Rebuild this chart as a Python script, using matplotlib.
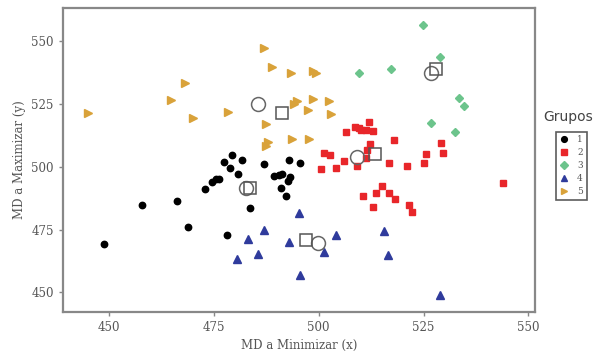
import matplotlib.pyplot as plt

# group 1 - black circles
g1_x = [449.0, 458.0, 466.4, 469.0, 472.9, 474.7, 475.5, 476.2, 477.6, 479.0, 479.5, 480.9, 481.7,
        478.1, 483.8, 486.9, 489.5, 490.6, 491.4, 491.1, 492.2, 492.8, 493.1, 493.0, 495.6]
g1_y = [469.2, 484.7, 486.3, 476.1, 491.0, 493.9, 495.0, 495.2, 501.7, 499.7, 504.5, 497.3, 502.7,
        472.7, 483.4, 500.9, 496.3, 496.6, 497.2, 491.5, 488.5, 494.3, 495.9, 502.5, 501.6]

# group 2 - red squares
g2_x = [500.5, 501.2, 502.8, 504.2, 506.0, 506.5, 508.6, 509.6, 510.2, 511.2, 512.0, 513.0, 512.2,
        511.6, 509.2, 511.2, 510.7, 512.9, 513.8, 515.2, 516.9, 518.3, 516.8, 518.0, 521.0, 521.6,
        522.3, 525.2, 525.5, 529.2, 529.7, 543.9]
g2_y = [499.2, 505.3, 504.8, 499.7, 502.1, 514.0, 516.0, 515.4, 514.8, 514.8, 517.8, 514.4, 509.2,
        506.8, 500.1, 503.6, 488.2, 483.8, 489.4, 492.5, 489.4, 487.0, 501.5, 510.8, 500.1, 484.6,
        482.0, 501.3, 505.0, 509.3, 505.3, 493.6]

# group 3 - green diamonds
g3_x = [524.8, 529.0, 509.7, 517.2, 533.5, 534.7, 526.8, 532.6]
g3_y = [556.6, 543.9, 537.5, 539.1, 527.3, 524.0, 517.5, 513.7]

# group 4 - blue triangles
g4_x = [495.4, 483.2, 486.9, 480.7, 485.5, 493.0, 501.3, 504.1, 495.6, 515.5, 516.6, 529.0]
g4_y = [481.6, 471.4, 474.7, 463.4, 465.4, 470.2, 466.0, 472.7, 456.8, 474.4, 465.0, 449.1]

# group 5 - orange right triangles
g5_x = [445.1, 464.9, 468.3, 470.2, 478.4, 487.0, 488.9, 493.5, 487.6, 494.2, 494.8, 497.4, 498.7,
        498.7, 499.5, 502.6, 502.9, 493.8, 497.7, 488.0, 487.4]
g5_y = [521.5, 526.4, 533.3, 519.4, 521.8, 547.4, 539.6, 537.3, 517.2, 525.0, 526.0, 522.5, 527.1,
        538.2, 537.4, 526.2, 521.0, 511.2, 511.2, 510.0, 508.2]

# group centres (two estimates each)
circ_x = [485.6, 526.7, 509.1, 482.8, 499.8]
circ_y = [525.1, 537.5, 504.0, 491.6, 469.6]
sq_x = [491.2, 528.0, 513.5, 483.8, 497.1]
sq_y = [521.4, 539.1, 505.2, 491.6, 470.7]

labels = ['1', '2', '3', '4', '5']
colors = ['#000000', '#e8262a', '#6cc48c', '#2f3b9c', '#d9a23a']
markers = ['o', 's', 'D', '^', '>']
sizes = [4.6, 5.0, 4.2, 5.5, 5.5]

fig = plt.figure(figsize=(5.98, 3.56), dpi=100)
ax = fig.add_axes([0.105, 0.124, 0.79, 0.854])

groups = [(g1_x, g1_y), (g2_x, g2_y), (g3_x, g3_y), (g4_x, g4_y), (g5_x, g5_y)]
handles = []
for (gx, gy), lab, c, m, s in zip(groups, labels, colors, markers, sizes):
    h, = ax.plot(gx, gy, ls='none', marker=m, ms=s, color=c, mec=c, label=lab)
    handles.append(h)

ax.plot(circ_x, circ_y, ls='none', marker='o', ms=10, mfc='none', mec='#666666', mew=1.1)
ax.plot(sq_x, sq_y, ls='none', marker='s', ms=8, mfc='none', mec='#555555', mew=1.1)

ax.set_xlim(439.1, 551.6)
ax.set_ylim(442.2, 563.3)
ax.set_xticks([450, 475, 500, 525, 550])
ax.set_yticks([450, 475, 500, 525, 550])

for sp in ax.spines.values():
    sp.set_color('#888888')
    sp.set_linewidth(1.6)
ax.tick_params(direction='out', length=3, width=1, color='#888888', labelcolor='#555555', labelsize=8.5)
for t in ax.get_xticklabels() + ax.get_yticklabels():
    t.set_family('DejaVu Serif')

ax.set_xlabel('MD a Minimizar (x)', family='DejaVu Serif', fontsize=8.5, color='#555555')
ax.set_ylabel('MD a Maximizar (y)', family='DejaVu Serif', fontsize=8.5, color='#555555')

fig.text(0.908, 1 - 117 / 356, 'Grupos', fontsize=10, color='#444444', va='center', ha='left')
leg = fig.legend(handles=handles, loc='upper left', bbox_to_anchor=(551 / 598, 1 - 127 / 356),
                 fontsize=6.5, frameon=True, fancybox=False, handlelength=1.0, handletextpad=1.0,
                 borderpad=0.4, labelspacing=0.45, markerscale=0.9)
leg.get_frame().set_edgecolor('#333333')
leg.get_frame().set_linewidth(1.2)
for t in leg.get_texts():
    t.set_family('DejaVu Serif')
    t.set_color('#555555')

fig.savefig('out.png', dpi=100)
